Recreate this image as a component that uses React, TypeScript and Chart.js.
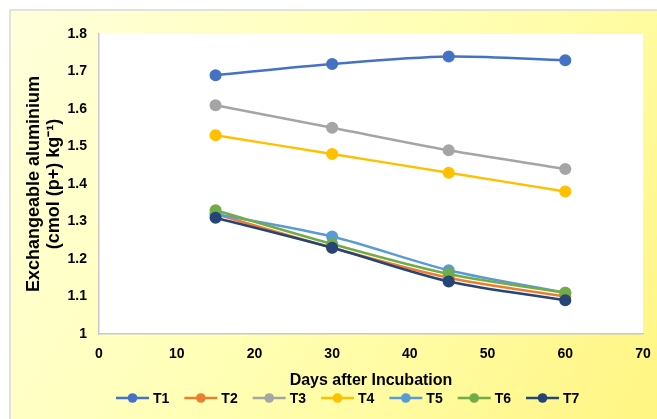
import React, { useEffect, useRef } from "react";
import { Chart, registerables } from "chart.js";

Chart.register(...registerables);

const days = [15, 30, 45, 60];
const seriesNames = ["T1", "T2", "T3", "T4", "T5", "T6", "T7"];
const T1 = [1.69, 1.72, 1.74, 1.73];
const T2 = [1.32, 1.23, 1.15, 1.1];
const T3 = [1.61, 1.55, 1.49, 1.44];
const T4 = [1.53, 1.48, 1.43, 1.38];
const T5 = [1.32, 1.26, 1.17, 1.11];
const T6 = [1.33, 1.24, 1.16, 1.11];
const T7 = [1.31, 1.23, 1.14, 1.09];
const seriesValues = [T1, T2, T3, T4, T5, T6, T7];
const seriesColors = ["#4472C4", "#ED7D31", "#A5A5A5", "#FFC000", "#5B9BD5", "#70AD47", "#264478"];
const yTitle = ["Exchangeable aluminium", "(cmol (p+) kg\u207B\u00B9)"];
const xTitle = "Days after Incubation";

const FONT = "'Liberation Sans', Arial, sans-serif";

const bgPlugin = {
  id: "bg",
  beforeDraw(chart: any) {
    const { ctx, width, height, chartArea } = chart;
    ctx.save();
    ctx.fillStyle = "#ffffff";
    ctx.fillRect(0, 0, width, height);
    const g = ctx.createLinearGradient(10, 10, width, height);
    g.addColorStop(0, "#FFFFDC");
    g.addColorStop(0.5, "#FFFFB4");
    g.addColorStop(1, "#FFF582");
    ctx.fillStyle = g;
    ctx.fillRect(10, 10, width - 10, height - 10);
    ctx.strokeStyle = "#d9d9d9";
    ctx.lineWidth = 1.5;
    ctx.beginPath();
    ctx.moveTo(10, height);
    ctx.lineTo(10, 10);
    ctx.lineTo(width, 10);
    ctx.stroke();
    ctx.fillStyle = "#ffffff";
    ctx.fillRect(chartArea.left, chartArea.top, chartArea.right - chartArea.left, chartArea.bottom - chartArea.top);
    ctx.restore();
  },
  afterDraw(chart: any) {
    const { ctx } = chart;
    ctx.save();
    ctx.font = `bold 14px ${FONT}`;
    ctx.textBaseline = "middle";
    ctx.textAlign = "left";
    let x = 116;
    const y = 398;
    chart.data.datasets.forEach((ds: any) => {
      ctx.strokeStyle = ds.borderColor;
      ctx.lineWidth = 2.5;
      ctx.beginPath();
      ctx.moveTo(x, y);
      ctx.lineTo(x + 33, y);
      ctx.stroke();
      ctx.fillStyle = ds.borderColor;
      ctx.beginPath();
      ctx.arc(x + 16.5, y, 4.8, 0, Math.PI * 2);
      ctx.fill();
      ctx.fillStyle = "#000000";
      ctx.fillText(ds.label, x + 37, y + 1);
      const w = ctx.measureText(ds.label).width;
      x += 37 + w + 15;
    });
    ctx.restore();
  },
};

export default function App() {
  const ref = useRef<HTMLCanvasElement | null>(null);
  useEffect(() => {
    if (!ref.current) return;
    const chart = new Chart(ref.current, {
      type: "line",
      data: {
        datasets: seriesNames.map((name, i) => ({
          label: name,
          order: seriesNames.length - 1 - i,
          data: days.map((d, j) => ({ x: d, y: seriesValues[i][j] })),
          borderColor: seriesColors[i],
          backgroundColor: seriesColors[i],
          pointBackgroundColor: seriesColors[i],
          pointBorderColor: seriesColors[i],
          borderWidth: 2.5,
          pointRadius: 4.8,
          tension: 0.3,
          fill: false,
        })),
      },
      options: {
        responsive: false,
        animation: false,
        layout: { padding: { left: 10, top: 34, right: 14, bottom: 0 } },
        plugins: { legend: { display: false }, tooltip: { enabled: false } },
        scales: {
          x: {
            type: "linear",
            min: 0,
            max: 70,
            ticks: { stepSize: 10, color: "#000", padding: 12, font: { family: FONT, size: 14, weight: "bold" } },
            grid: { display: false, drawTicks: false },
            border: { display: true, color: "#c8c8c8", width: 1.5 },
            title: {
              display: true,
              text: xTitle,
              color: "#000",
              font: { family: FONT, size: 16, weight: "bold" },
              padding: { top: 0, bottom: 29 },
            },
            afterFit(scale: any) {
              scale.height = 85;
              scale.paddingRight = 0;
              scale.paddingLeft = 0;
            },
          },
          y: {
            type: "linear",
            min: 1,
            max: 1.8,
            ticks: {
              stepSize: 0.1,
              color: "#000",
              padding: 12,
              font: { family: FONT, size: 14, weight: "bold" },
              callback: (v: any) => String(Number(Number(v).toFixed(1))),
            },
            grid: { display: false, drawTicks: false },
            border: { display: true, color: "#c8c8c8", width: 1.5 },
            title: {
              display: true,
              text: yTitle,
              color: "#000",
              font: { family: FONT, size: 18, weight: "bold", lineHeight: 1.1 },
              padding: { top: 14, bottom: 0 },
            },
            afterFit(scale: any) {
              scale.width = 89;
              scale.paddingTop = 0;
              scale.paddingBottom = 0;
            },
          },
        },
      },
      plugins: [bgPlugin],
    } as any);
    return () => chart.destroy();
  }, []);
  return (
    <div style={{ position: "absolute", left: 0, top: 0, width: 657, height: 419 }}>
      <canvas ref={ref} width={657} height={419} />
    </div>
  );
}
